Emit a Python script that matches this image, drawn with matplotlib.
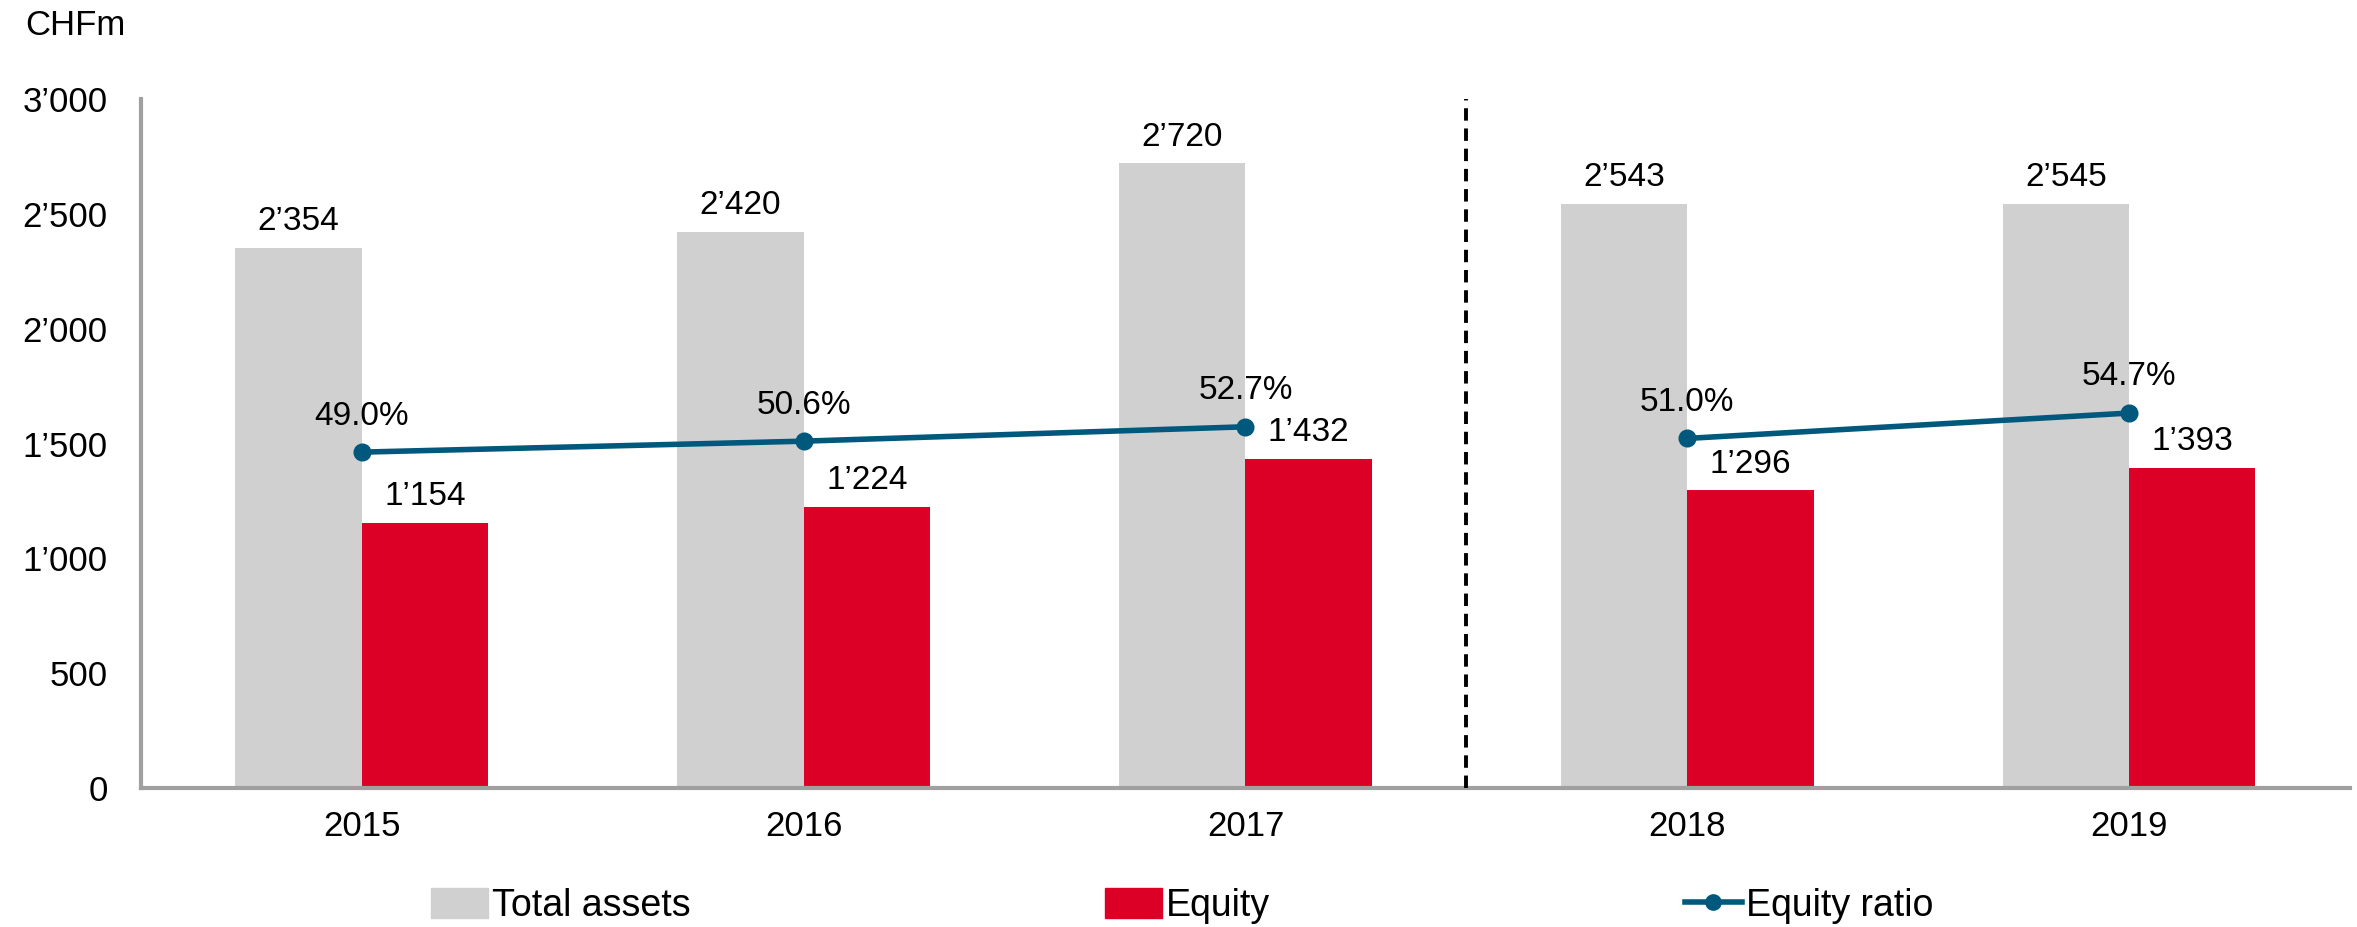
import numpy as np
import matplotlib.pyplot as plt
from matplotlib.patches import Patch
from matplotlib.lines import Line2D

plt.rcParams['font.family'] = ['Liberation Sans', 'DejaVu Sans']

# data
years = ["2015", "2016", "2017", "2018", "2019"]
total_assets = [2354, 2420, 2720, 2543, 2545]
equity = [1154, 1224, 1432, 1296, 1393]
equity_ratio = [49.0, 50.6, 52.7, 51.0, 54.7]
yticks = [0, 500, 1000, 1500, 2000, 2500, 3000]

c_gray = "#D0D0D0"
c_red = "#DC0026"
c_line = "#00587C"
c_axis = "#A0A0A0"


def fmt(v):
    # swiss thousands separator
    return f"{v:,}".replace(",", "\u2019")


fig = plt.figure(figsize=(23.57, 9.27), dpi=100)
ax = fig.add_axes([0.0598, 0.150, 0.9372, 0.743])

x = np.arange(len(years))
w = 0.286
ax.bar(x - w / 2, total_assets, w, color=c_gray, zorder=2)
ax.bar(x + w / 2, equity, w, color=c_red, zorder=2)

for xi, v in zip(x, total_assets):
    ax.annotate(fmt(v), (xi - w / 2, v), xytext=(0, 19), textcoords="offset points",
                ha="center", va="center", fontsize=24)
for xi, v in zip(x, equity):
    ax.annotate(fmt(v), (xi + w / 2, v), xytext=(0, 19), textcoords="offset points",
                ha="center", va="center", fontsize=24)

# separator between the two periods
ax.axvline(2.5, ymin=0, ymax=1, color="black", lw=2.8, dashes=(3.2, 2), zorder=3)

ax.set_xlim(-0.5, 4.5)
ax.set_ylim(0, 3000)
ax.set_yticks(yticks)
ax.set_yticklabels([fmt(t) for t in yticks])
ax.set_xticks(x)
ax.set_xticklabels(years)
ax.tick_params(axis="y", length=0, pad=24, labelsize=25)
ax.tick_params(axis="x", length=0, pad=16, labelsize=25)
for s in ["top", "right"]:
    ax.spines[s].set_visible(False)
for s in ["left", "bottom"]:
    ax.spines[s].set_color(c_axis)
    ax.spines[s].set_linewidth(3)

# equity ratio on a hidden secondary axis, line broken at the separator
ax2 = ax.twinx()
ax2.plot(x[:3], equity_ratio[:3], color=c_line, lw=4, marker="o", ms=12, zorder=5)
ax2.plot(x[3:], equity_ratio[3:], color=c_line, lw=4, marker="o", ms=12, zorder=5)
for xi, v in zip(x, equity_ratio):
    ax2.annotate(f"{v:.1f}%", (xi, v), xytext=(0, 26), textcoords="offset points",
                 ha="center", va="center", fontsize=24)
ax2.set_ylim(0, 100.5)
ax2.set_yticks([])
for s in ax2.spines.values():
    s.set_visible(False)

fig.text(0.0106, 0.972, "CHFm", fontsize=25, va="center", ha="left")

# legend, three separate entries like the original
items = [
    (Patch(color=c_gray), "Total assets", 0.183),
    (Patch(color=c_red), "Equity", 0.469),
    (Line2D([], [], color=c_line, lw=4, marker="o", ms=11), "Equity ratio", 0.715),
]
for h, lab, xpos in items:
    fig.legend([h], [lab], loc="center left", bbox_to_anchor=(xpos, 0.023),
               frameon=False, fontsize=27, handlelength=1.5, handleheight=0.85,
               handletextpad=0.12, borderaxespad=0, borderpad=0)

fig.savefig("out.png", dpi=100)
